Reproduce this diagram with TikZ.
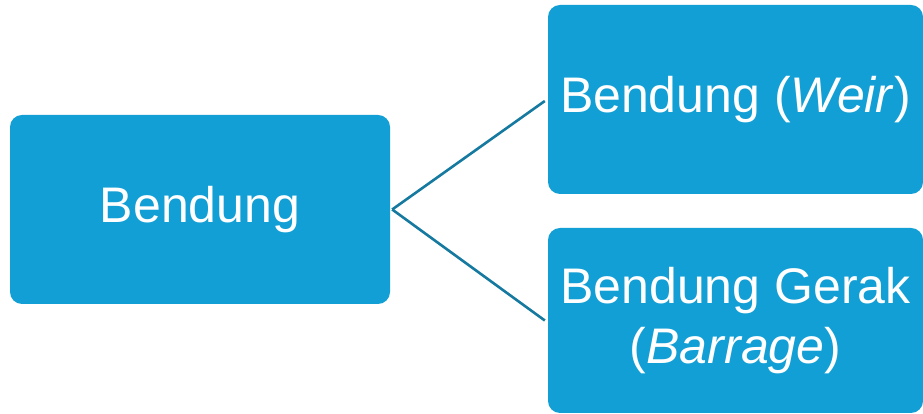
\documentclass[tikz,border=0pt]{standalone}
\usepackage{fontspec}
\setmainfont{Liberation Sans}
\definecolor{boxblue}{RGB}{18,159,213}
\definecolor{linkblue}{RGB}{22,122,160}
\begin{document}
\begin{tikzpicture}[x=1pt,y=1pt,
  box/.style={fill=boxblue,rounded corners=12pt,inner sep=0pt,text=white,
    font=\fontsize{50}{60}\selectfont,align=center},
  conn/.style={draw=linkblue,line width=2.6pt}]
\useasboundingbox (0,0) rectangle (923,414);
\fill[white] (0,0) rectangle (923,414);
\node[box,minimum width=380pt,minimum height=189pt] (L) at (200,204.5) {Bendung};
\node[box,minimum width=375pt,minimum height=189pt] (T) at (735.5,314.5) {Bendung (\textit{Weir})};
\node[box,minimum width=375pt,minimum height=185pt] (B) at (735.5,93.5) {Bendung Gerak\\(\textit{Barrage})};
\draw[conn] ([xshift=2pt]L.east) -- ([xshift=-3pt,yshift=-1.5pt]T.west);
\draw[conn] ([xshift=2pt]L.east) -- ([xshift=-3pt]B.west);
\end{tikzpicture}
\end{document}
